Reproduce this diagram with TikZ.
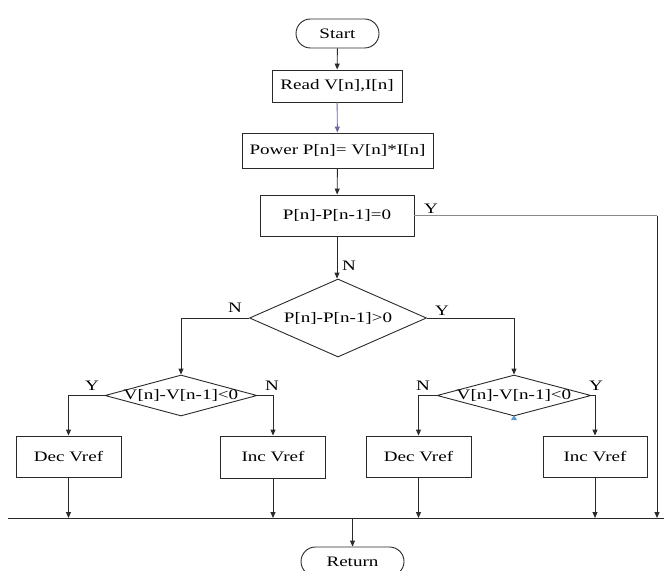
\documentclass[tikz,border=0pt]{standalone}
\usepackage{fontspec}
\setmainfont{Liberation Serif}[FakeStretch=1.32]
\usetikzlibrary{arrows.meta,shapes.geometric}
\newcommand{\fcfont}{\fontsize{14.5}{17}\selectfont}
\definecolor{lnc}{HTML}{2A2A2A}
\definecolor{purp}{HTML}{6A6A9E}
\definecolor{graylin}{HTML}{8A8A8A}
\definecolor{blueart}{HTML}{5B9BD5}
\begin{document}
\begin{tikzpicture}[x=1bp,y=-1bp,
  box/.style={draw=lnc, line width=0.9bp, rectangle, inner sep=0, font=\fcfont},
  term/.style={box, rounded corners=14.5bp},
  dia/.style={draw=lnc, line width=0.9bp, diamond, inner sep=0},
  arr/.style={draw=lnc, line width=0.9bp, -{Triangle[length=6bp,width=5bp]}},
  ln/.style={draw=lnc, line width=0.9bp},
  lab/.style={font=\fcfont, inner sep=0}]
\useasboundingbox (0,0) rectangle (664,571);
\clip (0,0) rectangle (664,571);
% nodes
\node[term, minimum width=83bp, minimum height=29bp] (start) at (337.5,33.5) {Start};
\node[box, minimum width=130bp, minimum height=32bp] (read) at (337,86) {Read V[n],I[n]};
\node[box, minimum width=191bp, minimum height=35bp] (power) at (337.5,150.5) {Power P[n]= V[n]*I[n]};
\node[box, minimum width=154bp, minimum height=41bp] (p0) at (337,215.5) {P[n]-P[n-1]=0};
\node[dia, minimum width=177bp, minimum height=78bp] (d1) at (338,318) {};
\node[lab] (d1t) at (d1.center) {P[n]-P[n-1]>0};
\node[dia, minimum width=152bp, minimum height=41bp] (dl) at (181,395.5) {};
\node[lab] (dlt) at (dl.center) {V[n]-V[n-1]<0};
\node[dia, minimum width=154bp, minimum height=41bp] (dr) at (514,395.5) {};
\node[lab] (drt) at (dr.center) {V[n]-V[n-1]<0};
\node[box, minimum width=105bp, minimum height=41bp] (decl) at (68.5,456.5) {Dec Vref};
\node[box, minimum width=105bp, minimum height=42bp] (incl) at (273,457) {Inc Vref};
\node[box, minimum width=105bp, minimum height=41bp] (decr) at (418.5,456.5) {Dec Vref};
\node[box, minimum width=104bp, minimum height=41bp] (incr) at (595,456.5) {Inc Vref};
\node[term, minimum width=103bp, minimum height=29bp] (ret) at (352.5,561.5) {Return};
% coordinates
\coordinate (bl) at (8,518);
\coordinate (br) at (664,518);
\coordinate (rc) at (657,215.5);
\coordinate (rb) at (657,518);
% connectors
\draw[arr] (start) -- (read);
\draw[arr, draw=purp, -{Triangle[length=6bp,width=5bp,fill=purp]}] (read) -- (power);
\draw[arr] (power) -- (p0);
\draw[arr] (p0.south) -- (p0.south |- d1.north);
\draw[ln, draw=graylin] (p0.east) -- (rc);
\draw[arr] (rc) -- (rb);
\draw[arr] (d1.west) -| (dl.north);
\draw[arr] (d1.east) -| (dr.north);
\draw[arr] (dl.west) -| (decl.north);
\draw[arr] (dl.east) -| (incl.north);
\draw[arr] (dr.west) -| (decr.north);
\draw[arr] (dr.east) -| (incr.north);
\draw[arr] (decl.south) -- (decl.south |- bl);
\draw[arr] (incl.south) -- (incl.south |- bl);
\draw[arr] (decr.south) -- (decr.south |- bl);
\draw[arr] (incr.south) -- (incr.south |- bl);
\draw[ln] (bl) -- (br);
\draw[arr] (ret.north |- bl) -- (ret.north);
% labels
\node[lab] (ly0) at (431,209) {Y};
\node[lab] (ln0) at (349,266) {N};
\node[lab] (ln1) at (235,308) {N};
\node[lab] (ly1) at (442,311) {Y};
\node[lab] (ly2) at (92,386) {Y};
\node[lab] (ln2) at (272,386) {N};
\node[lab] (ln3) at (423,386) {N};
\node[lab] (ly3) at (596,386) {Y};
% small blue mark
\fill[blueart] (511,420) -- (517,420) -- (514,415) -- cycle;
\end{tikzpicture}
\end{document}
